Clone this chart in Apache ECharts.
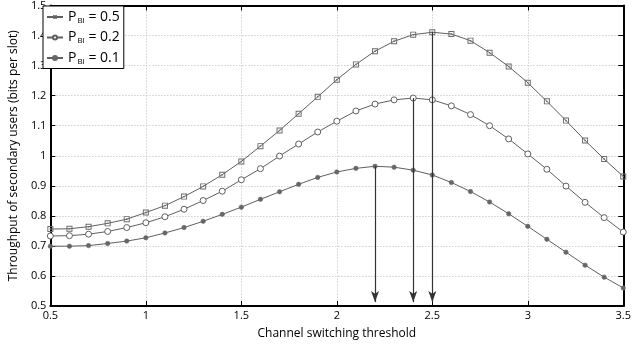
<!DOCTYPE html>
<html><head><meta charset="utf-8">
<script src="https://cdn.jsdelivr.net/npm/echarts@6/dist/echarts.min.js"></script>
<style>html,body{margin:0;padding:0;background:#fff}#c{width:634px;height:347px}</style>
</head><body><div id="c"></div>
<script>
const xValues = [0.5,0.6,0.7,0.8,0.9,1.0,1.1,1.2,1.3,1.4,1.5,1.6,1.7,1.8,1.9,2.0,2.1,2.2,2.3,2.4,2.5,2.6,2.7,2.8,2.9,3.0,3.1,3.2,3.3,3.4,3.5];
const pbi05 = [0.756,0.757,0.764,0.775,0.789,0.811,0.834,0.864,0.898,0.937,0.981,1.032,1.084,1.140,1.196,1.253,1.304,1.348,1.381,1.403,1.411,1.405,1.383,1.343,1.297,1.243,1.181,1.117,1.051,0.989,0.931];
const pbi02 = [0.733,0.734,0.739,0.748,0.761,0.777,0.797,0.822,0.851,0.882,0.920,0.957,0.999,1.039,1.079,1.115,1.149,1.172,1.186,1.192,1.186,1.166,1.137,1.100,1.056,1.006,0.955,0.899,0.845,0.794,0.746];
const pbi01 = [0.699,0.699,0.701,0.708,0.716,0.727,0.743,0.761,0.782,0.805,0.829,0.855,0.880,0.905,0.928,0.946,0.958,0.965,0.962,0.952,0.936,0.911,0.881,0.846,0.807,0.765,0.722,0.679,0.636,0.596,0.560];
const seriesNames = ['0.5','0.2','0.1'];
const peakX = [2.5, 2.4, 2.2];
const peakY = [1.411, 1.192, 0.965];
const arrowEndY = 0.513;

const FONT = 'Open Sans';
const grey = '#5f5f5f';
function mk(d){ return xValues.map((x,i)=>[x,d[i]]); }
function arrow(i){
  return {
    silent:true, symbol:['none','arrow'], symbolSize:[6,11],
    lineStyle:{color:'#333',width:1.2,type:'solid'},
    label:{show:false},
    data:[[{coord:[peakX[i],peakY[i]]},{coord:[peakX[i],arrowEndY]}]]
  };
}
const sqSym = 'path://M0,0H10V10H0Z M1.6,1.6V8.4H8.4V1.6Z M3.8,3.8H6.2V6.2H3.8Z';
const datas=[pbi05,pbi02,pbi01];
const symbols=[sqSym,'circle','circle'];
const sizes=[6,6,4.5];
const styles=[
  {color:'#6a6a6a',borderWidth:0},
  {color:'#fff',borderColor:grey,borderWidth:1},
  {color:'#666',borderColor:'#666',borderWidth:0.5}
];
const series = datas.map((d,i)=>({
  name: seriesNames[i], type:'line', data: mk(d),
  symbol: symbols[i], symbolSize: sizes[i], showAllSymbol:true,
  lineStyle:{color:grey,width:1},
  itemStyle: styles[i],
  markLine: arrow(i), z: 3
}));
const chart = echarts.init(document.getElementById('c'));
chart.setOption({
  animation:false,
  textStyle:{fontFamily:FONT},
  grid:{left:43,right:3,top:5,bottom:41},
  legend:{
    left:43, top:6, orient:'vertical', itemGap:6, itemWidth:16, itemHeight:5,
    backgroundColor:'#fff', borderColor:'#000', borderWidth:1, padding:[4,4,3,3],
    data: seriesNames,
    formatter: n => '{p|P}{s|BI}{p| = '+n+'}',
    textStyle:{fontSize:14,color:'#000',fontFamily:FONT,rich:{p:{fontSize:14,fontFamily:FONT,color:'#000',height:15},s:{fontSize:8,fontFamily:FONT,color:'#000',verticalAlign:'bottom',padding:[7,0,0,1]}}}
  },
  xAxis:[{
    type:'value', min:0.5, max:3.5, interval:0.5,
    name:'Channel switching threshold', nameLocation:'middle', nameGap:22,
    nameTextStyle:{fontSize:12,color:'#000',fontFamily:FONT},
    axisLine:{lineStyle:{color:'#000',width:2}},
    axisTick:{inside:true,length:5,lineStyle:{color:'#000'}},
    axisLabel:{color:'#000',fontSize:11,margin:4,fontFamily:FONT},
    splitLine:{lineStyle:{color:'#bbb',type:[1,2],width:1}}
  },{
    type:'value', position:'top', min:0.5, max:3.5, interval:0.5,
    axisLine:{lineStyle:{color:'#000',width:2}},
    axisTick:{inside:true,length:5,lineStyle:{color:'#000'}},
    axisLabel:{show:false}, splitLine:{show:false}
  }],
  yAxis:[{
    type:'value', min:0.5, max:1.5, interval:0.1,
    name:'Throughput of secondary users (bits per slot)', nameLocation:'middle', nameGap:27,
    nameTextStyle:{fontSize:12,color:'#000',fontFamily:FONT},
    axisLine:{lineStyle:{color:'#000',width:2}},
    axisTick:{inside:true,length:5,lineStyle:{color:'#000'}},
    axisLabel:{color:'#000',fontSize:11,margin:4,fontFamily:FONT,formatter:v=>String(+v.toFixed(1))},
    splitLine:{lineStyle:{color:'#bbb',type:[1,2],width:1}}
  },{
    type:'value', position:'right', min:0.5, max:1.5, interval:0.1,
    axisLine:{lineStyle:{color:'#000',width:2}},
    axisTick:{inside:true,length:5,lineStyle:{color:'#000'}},
    axisLabel:{show:false}, splitLine:{show:false}
  }],
  series: series
});
</script></body></html>
